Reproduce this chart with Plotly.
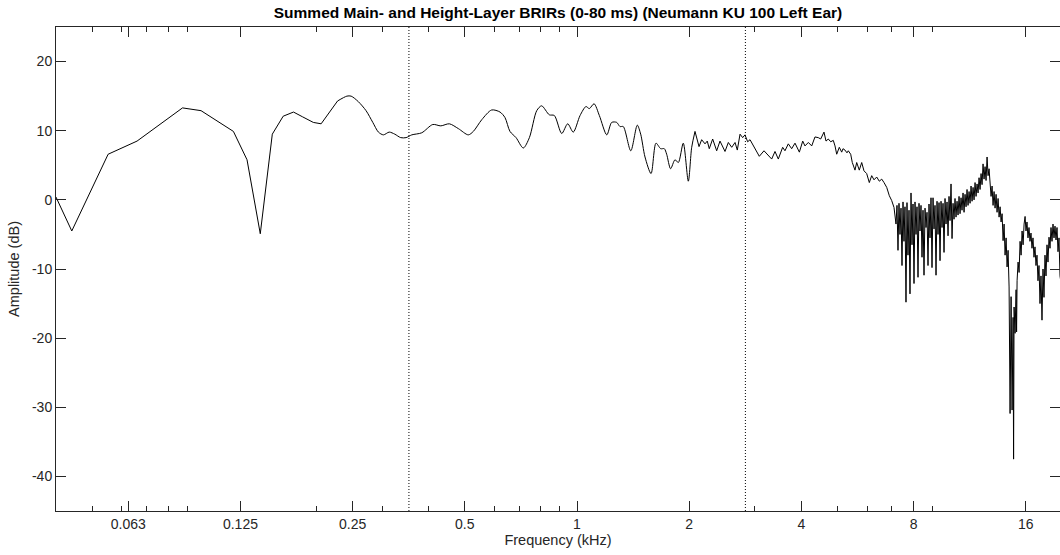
import math
import plotly.graph_objects as go

# ---------------- data (frequency in kHz, amplitude in dB) ----------------
low_khz = [0.0400, 0.0441, 0.0552, 0.0660, 0.0874, 0.0980, 0.1197, 0.1302, 0.1413,
           0.1522, 0.1628, 0.1735, 0.1836, 0.1961, 0.2058, 0.2278]
low_db = [0.4, -4.5, 6.6, 8.5, 13.3, 12.9, 9.9, 5.8, -4.9,
          9.5, 12.1, 12.7, 12.0, 11.2, 11.0, 14.3]

mid_khz = [0.2278, 0.2413, 0.2477, 0.2590, 0.2716, 0.2832, 0.2932, 0.3024, 0.3134, 0.3244,
           0.3365, 0.3478, 0.3603, 0.3832, 0.4103, 0.4311, 0.4544, 0.4805, 0.5108, 0.5270,
           0.5553, 0.5902, 0.6215, 0.6409, 0.6609, 0.6862, 0.7176, 0.7451, 0.7797, 0.8037,
           0.8427, 0.8693, 0.9099, 0.9441, 0.9770, 1.019, 1.057, 1.079, 1.111, 1.148,
           1.202, 1.239, 1.278, 1.304, 1.331, 1.394, 1.451, 1.482, 1.522, 1.580,
           1.629, 1.677, 1.715, 1.740, 1.783, 1.832, 1.870, 1.928, 1.989, 2.031, 2.073]
mid_db = [14.3, 15.0, 15.0, 14.2, 12.9, 11.2, 9.8, 9.4, 9.8, 9.5,
          9.0, 9.0, 9.4, 9.7, 10.9, 10.7, 11.0, 10.3, 9.4, 9.9,
          11.6, 13.0, 12.7, 11.9, 9.9, 9.0, 7.5, 9.0, 12.9, 13.6,
          12.3, 12.2, 9.6, 11.0, 9.8, 12.2, 13.5, 13.2, 13.9, 12.2,
          9.4, 11.2, 11.2, 10.6, 10.6, 7.1, 10.8, 9.5, 6.2, 3.8,
          8.2, 7.4, 7.4, 6.6, 4.5, 5.8, 5.4, 8.2, 2.7, 7.6, 9.9]

high_khz = [2.073, 2.125, 2.160, 2.205, 2.236, 2.264, 2.312, 2.370, 2.419, 2.495,
            2.547, 2.601, 2.655, 2.692, 2.738, 2.783, 2.823, 2.870, 2.912, 2.971,
            3.084, 3.175, 3.261, 3.329, 3.398, 3.468, 3.563, 3.614, 3.689, 3.767,
            3.845, 3.950, 4.033, 4.089, 4.175, 4.263, 4.350, 4.440, 4.506, 4.543,
            4.599, 4.657, 4.723, 4.794, 4.871, 4.923, 4.975, 5.055, 5.131, 5.172,
            5.236, 5.301, 5.344, 5.424, 5.478, 5.570, 5.629, 5.720, 5.806, 5.888,
            5.988, 6.085, 6.176, 6.264, 6.369, 6.473, 6.570, 6.664, 6.776, 6.886,
            6.988, 7.088,
            7.132, 7.176, 7.220, 7.265, 7.310, 7.355, 7.401, 7.447, 7.493, 7.539,
            7.586, 7.633, 7.680, 7.728, 7.776, 7.824, 7.873, 7.922, 7.971, 8.020,
            8.070, 8.120, 8.170, 8.221, 8.272, 8.323, 8.375, 8.427, 8.479, 8.532,
            8.585, 8.638, 8.691, 8.745, 8.799, 8.854, 8.909, 8.964, 9.020, 9.076,
            9.132, 9.189, 9.246, 9.303, 9.361, 9.419, 9.477, 9.536, 9.595, 9.655,
            9.715, 9.775, 9.836, 9.897, 9.958, 10.020, 10.082, 10.145,
            10.208, 10.271, 10.334, 10.398, 10.463, 10.528, 10.593, 10.659, 10.725, 10.791,
            10.858, 10.926, 10.993, 11.062, 11.130, 11.199, 11.269, 11.339, 11.409, 11.480,
            11.551, 11.623, 11.695, 11.767, 11.840, 11.914, 11.988, 12.062, 12.137, 12.212,
            12.288, 12.364, 12.441, 12.518, 12.596, 12.674, 12.752, 12.831,
            12.911, 12.991, 13.072, 13.153, 13.234, 13.316, 13.399, 13.482, 13.566, 13.650,
            13.735, 13.820, 13.906, 13.992, 14.079, 14.166, 14.254, 14.342, 14.431, 14.521,
            14.611, 14.701, 14.792, 14.838, 14.884, 14.976, 15.069, 15.116, 15.163, 15.257,
            15.351, 15.446, 15.542, 15.638, 15.735, 15.833, 15.931, 16.020, 16.119, 16.219,
            16.320, 16.421, 16.523, 16.625, 16.728, 16.832, 16.936, 17.041, 17.147, 17.253,
            17.360, 17.468, 17.576, 17.685, 17.795, 17.905, 18.016, 18.128, 18.240, 18.353,
            18.467, 18.582, 18.697, 18.813, 18.929, 19.047, 19.165, 19.284, 19.403, 19.524,
            19.645, 19.766, 19.889]
high_db = [9.9, 7.7, 8.7, 8.1, 8.5, 7.4, 8.8, 7.1, 8.5, 7.0,
           8.3, 7.6, 8.3, 7.2, 9.5, 9.0, 9.4, 8.4, 8.7, 7.9,
           6.3, 7.1, 6.4, 5.9, 7.0, 5.9, 7.6, 7.1, 8.1, 7.4,
           8.2, 6.9, 8.5, 7.8, 8.3, 7.8, 9.1, 9.0, 8.8, 9.3,
           9.8, 8.5, 8.8, 8.4, 8.6, 7.8, 6.6, 7.6, 6.9, 7.4,
           7.2, 6.8, 7.1, 6.6, 5.4, 4.3, 5.4, 4.3, 5.4, 4.2,
           3.8, 2.5, 3.5, 2.9, 3.3, 2.7, 3.0, 2.5, 1.8, 0.6,
           -0.1, -1.1,
           -2.0, -3.5, -0.8, -7.3, -0.5, -5.0, -1.2, -9.5, -0.3, -6.0,
           -1.0, -14.8, -0.4, -8.0, -1.5, -13.6, 1.0, -6.5, -0.6, -12.1,
           -0.3, -5.0, -1.0, -11.2, -0.5, -4.5, -0.8, -8.3, -1.5, -10.9,
           -1.2, -4.0, -1.8, -9.5, -0.6, -5.5, 0.3, -9.8, 0.3, -4.2,
           -0.8, -10.9, -0.2, -5.0, -0.4, -8.8, -0.2, -4.0, -0.5, -7.6,
           0.2, -3.5, -0.3, -5.2, 0.5, -3.0, 2.3, -5.6,
           -0.5, -2.8, 0.2, -2.5, -0.2, -2.2, 0.5, -2.0, 0.3, -1.5,
           1.0, -1.8, 0.8, -1.0, 1.5, -0.8, 1.2, -0.5, 2.0, -0.2,
           1.8, 0.0, 2.5, 0.5, 2.3, 1.0, 3.2, 1.5, 3.8, 2.2,
           5.2, 3.0, 4.8, 2.8, 6.2, 3.5, 4.5, 2.0,
           0.5, 2.0, -0.8, 1.2, -1.2, 0.8, -1.8, 0.2, -2.5, -1.0,
           -3.2, -2.0, -5.9, -3.5, -8.0, -5.5, -9.7, -7.3, -12.6, -30.9,
           -14.0, -30.4, -17.0, -37.5, -15.5, -19.3, -13.0, -19.1, -11.7, -9.0,
           -10.5, -6.0, -8.0, -4.5, -6.5, -3.5, -2.4, -4.5, -3.2, -5.5,
           -4.0, -6.0, -4.8, -7.0, -5.5, -8.3, -6.8, -9.5, -8.0, -11.7,
           -9.5, -15.0, -11.0, -17.4, -10.0, -14.1, -8.0, -11.0, -6.5, -9.0,
           -5.4, -7.0, -4.0, -6.0, -3.5, -5.5, -3.8, -5.8, -4.0, -7.5,
           -5.5, -11.0, -12.0]

crossover_khz = [0.354, 2.83]

major_ticks = [0.0625, 0.125, 0.25, 0.5, 1, 2, 4, 8, 16]
major_labels = ["0.063", "0.125", "0.25", "0.5", "1", "2", "4", "8", "16"]
minor_ticks = [0.05, 0.06, 0.07, 0.08, 0.09, 0.2, 0.3, 0.4, 0.6, 0.7, 0.8, 0.9,
               3, 5, 6, 7, 9]
y_ticks = [-40, -30, -20, -10, 0, 10, 20]
y_labels = ["-40", "-30", "-20", "-10", "0", "10", "20"]

x_min_khz, x_max_khz = 0.04, 19.766
y_min_db, y_max_db = -45, 25

# ---------------- figure ----------------
AX = "#262626"
FONT = "Liberation Sans, Arial, Helvetica, sans-serif"

fig = go.Figure()
line = dict(color="black", width=1)
fig.add_trace(go.Scatter(x=low_khz, y=low_db, mode="lines", line=line,
                         showlegend=False, hoverinfo="skip"))
fig.add_trace(go.Scatter(x=mid_khz, y=mid_db, mode="lines",
                         line=dict(color="black", width=1, shape="spline", smoothing=0.8),
                         showlegend=False, hoverinfo="skip"))
fig.add_trace(go.Scatter(x=high_khz, y=high_db, mode="lines", line=line,
                         showlegend=False, hoverinfo="skip"))
for fc in crossover_khz:
    fig.add_trace(go.Scatter(x=[fc, fc], y=[y_min_db, y_max_db], mode="lines",
                             line=dict(color="black", width=1, dash="1px,2px"),
                             showlegend=False, hoverinfo="skip"))

tickfont = dict(family=FONT, size=14, color=AX)

fig.update_layout(
    width=1060, height=555,
    margin=dict(l=56, r=0, t=27, b=44),
    paper_bgcolor="white", plot_bgcolor="white",
    title=dict(text="<b>Summed Main- and Height-Layer BRIRs (0-80 ms) (Neumann KU 100 Left Ear)</b>",
               x=0.5, xref="paper", xanchor="center",
               y=1 - 13 / 555, yref="container", yanchor="middle",
               font=dict(family=FONT, size=15.5, color="black")),
    xaxis=dict(type="log", range=[math.log10(x_min_khz), math.log10(x_max_khz)],
               tickmode="array", tickvals=major_ticks, ticktext=major_labels,
               ticks="inside", ticklen=10, tickwidth=1, tickcolor=AX,
               showline=True, linecolor=AX, linewidth=1, mirror="ticks",
               showgrid=False, zeroline=False, tickfont=tickfont,
               minor=dict(tickmode="array", tickvals=minor_ticks, ticks="inside",
                          ticklen=5, tickwidth=1, tickcolor=AX, showgrid=False),
               title=dict(text="Frequency (kHz)", standoff=4,
                          font=dict(family=FONT, size=14.5, color=AX))),
    yaxis=dict(range=[y_min_db, y_max_db], tickmode="array", tickvals=y_ticks,
               ticktext=y_labels,
               ticks="inside", ticklen=10, tickwidth=1, tickcolor=AX,
               showline=True, linecolor=AX, linewidth=1, mirror="ticks",
               showgrid=False, zeroline=False, tickfont=tickfont,
               title=dict(text="Amplitude (dB)", standoff=8,
                          font=dict(family=FONT, size=14.5, color=AX))),
)

fig.write_html("out.html")
